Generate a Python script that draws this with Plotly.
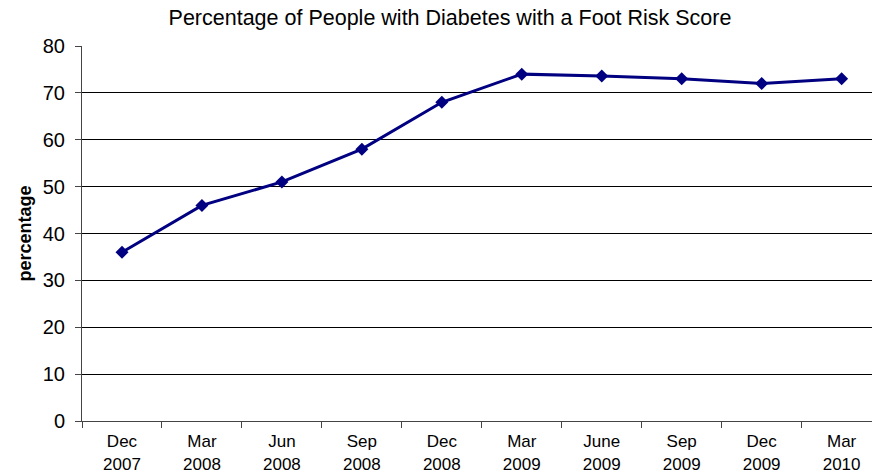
import plotly.graph_objects as go

categories = ["Dec<br>2007", "Mar<br>2008", "Jun<br>2008", "Sep<br>2008", "Dec<br>2008",
              "Mar<br>2009", "June<br>2009", "Sep<br>2009", "Dec<br>2009", "Mar<br>2010"]
values = [36, 46, 51, 58, 68, 74, 73.6, 73, 72, 73]
y_ticks = [0, 10, 20, 30, 40, 50, 60, 70, 80]

fig = go.Figure()
fig.add_trace(go.Scatter(
    x=categories, y=values, mode="lines+markers",
    line=dict(color="#000080", width=3),
    marker=dict(symbol="diamond", size=10, color="#000080"),
    showlegend=False,
))

font = "Liberation Sans, Arial, sans-serif"
fig.update_layout(
    width=872, height=475,
    margin=dict(l=82, r=0, t=46, b=54),
    paper_bgcolor="white", plot_bgcolor="white",
    font=dict(family=font, color="black"),
    title=dict(text="Percentage of People with Diabetes with a Foot Risk Score",
               x=450 / 872, xanchor="center", xref="container",
               y=1 - 17 / 475, yanchor="middle", yref="container",
               font=dict(size=21.5, family=font, color="black")),
)
fig.update_xaxes(
    type="category", range=[-0.5, 9.38],
    tickson="boundaries", ticks="outside", ticklen=6, tickcolor="#444",
    showline=True, linecolor="#444", linewidth=1, automargin=False,
    showgrid=False, tickfont=dict(size=17, family=font, color="black"),
    ticklabelstandoff=5,
)
fig.update_yaxes(
    range=[0, 80], tickvals=y_ticks, ticks="outside", ticklen=6, tickcolor="#444",
    showline=True, linecolor="#444", linewidth=1, automargin=False,
    showgrid=True, gridcolor="black", gridwidth=1, zeroline=False,
    tickfont=dict(size=20, family=font, color="black"), ticklabelstandoff=6,
    title=dict(text="<b>percentage</b>", font=dict(size=18, family=font, color="black"), standoff=6),
)
fig.write_html("out.html")
